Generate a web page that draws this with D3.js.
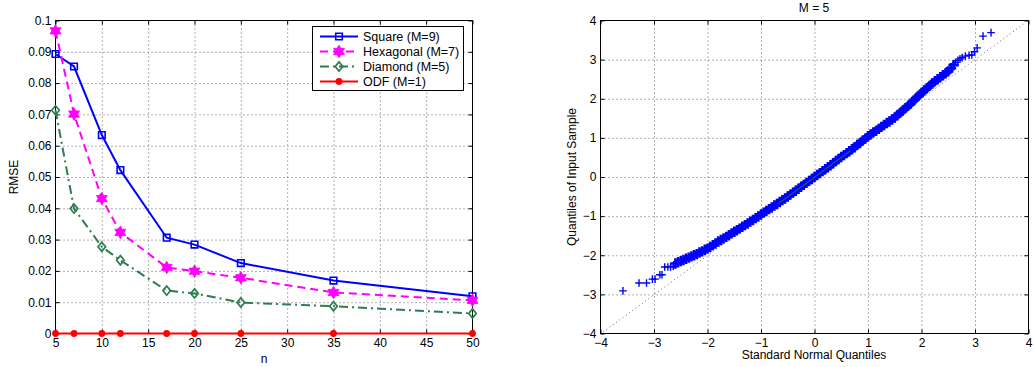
<!DOCTYPE html>
<html>
<head>
<meta charset="utf-8">
<script src="https://cdn.jsdelivr.net/npm/d3@7"></script>
<style>
  body { margin: 0; background: #fff; }
  svg { display: block; }
</style>
</head>
<body>
<svg id="chart" width="1034" height="367"></svg>
<script>
// ---------- RMSE vs n (left panel) ----------
const nValues      = [5, 7, 10, 12, 17, 20, 25, 35, 50];
const squareRMSE   = [0.0893, 0.0853, 0.0634, 0.0522, 0.0306, 0.0284, 0.0225, 0.0169, 0.0119];
const hexRMSE      = [0.0967, 0.0701, 0.0431, 0.0323, 0.0211, 0.0199, 0.0178, 0.0131, 0.0106];
const diamondRMSE  = [0.0713, 0.0399, 0.0277, 0.0234, 0.0137, 0.0128, 0.0099, 0.0087, 0.0064];
const odfRMSE      = [0, 0, 0, 0, 0, 0, 0, 0, 0];
const seriesNames  = ["Square (M=9)", "Hexagonal (M=7)", "Diamond (M=5)", "ODF (M=1)"];
const nTicks       = [5, 10, 15, 20, 25, 30, 35, 40, 45, 50];
const rmseTicks    = [0, 0.01, 0.02, 0.03, 0.04, 0.05, 0.06, 0.07, 0.08, 0.09, 0.1];

// ---------- Normal probability plot (right panel) ----------
// theoretical standard normal quantiles and matching sample quantiles
const qqTheo = [
  -3.58, -3.28, -3.14, -3.03, -2.98, -2.89, -2.85, -2.80, -2.74, -2.69, -2.64,
  -2.60, -2.55, -2.50, -2.45, -2.40, -2.35, -2.30, -2.25, -2.20, -2.15, -2.10, -2.05,
  -2.00, -1.95, -1.90, -1.85, -1.80, -1.75, -1.70, -1.65, -1.60, -1.55, -1.50, -1.45,
  -1.40, -1.35, -1.30, -1.25, -1.20, -1.15, -1.10, -1.05, -1.00, -0.95, -0.90, -0.85,
  -0.80, -0.75, -0.70, -0.65, -0.60, -0.55, -0.50, -0.45, -0.40, -0.35, -0.30, -0.25,
  -0.20, -0.15, -0.10, -0.05, 0.00, 0.05, 0.10, 0.15, 0.20, 0.25, 0.30, 0.35,
  0.40, 0.45, 0.50, 0.55, 0.60, 0.65, 0.70, 0.75, 0.80, 0.85, 0.90, 0.95,
  1.00, 1.05, 1.10, 1.15, 1.20, 1.25, 1.30, 1.35, 1.40, 1.45, 1.50, 1.55,
  1.60, 1.65, 1.70, 1.75, 1.80, 1.85, 1.90, 1.95, 2.00, 2.05, 2.10, 2.15,
  2.20, 2.25, 2.30, 2.35, 2.40, 2.45, 2.50, 2.55, 2.60,
  2.64, 2.68, 2.72, 2.76, 2.82, 2.89, 2.94, 2.99, 3.04, 3.15, 3.30
];
const qqSample = [
  -2.91, -2.71, -2.71, -2.61, -2.61, -2.50, -2.50, -2.30, -2.30, -2.30, -2.28,
  -2.21, -2.18, -2.15, -2.12, -2.09, -2.06, -2.03, -2.00, -1.97, -1.93, -1.90, -1.86,
  -1.83, -1.79, -1.74, -1.70, -1.65, -1.61, -1.57, -1.53, -1.49, -1.44, -1.40, -1.36,
  -1.32, -1.27, -1.23, -1.19, -1.14, -1.10, -1.05, -1.01, -0.96, -0.91, -0.87, -0.82,
  -0.78, -0.73, -0.69, -0.64, -0.59, -0.55, -0.50, -0.45, -0.40, -0.35, -0.30, -0.25,
  -0.20, -0.15, -0.10, -0.05, 0.00, 0.05, 0.10, 0.15, 0.20, 0.25, 0.30, 0.35,
  0.41, 0.46, 0.51, 0.56, 0.61, 0.66, 0.71, 0.76, 0.82, 0.87, 0.93, 0.98,
  1.04, 1.09, 1.14, 1.18, 1.23, 1.28, 1.33, 1.38, 1.42, 1.47, 1.52, 1.58,
  1.64, 1.70, 1.76, 1.82, 1.88, 1.95, 2.02, 2.08, 2.15, 2.21, 2.27, 2.33,
  2.39, 2.45, 2.50, 2.55, 2.60, 2.65, 2.70, 2.78, 2.86,
  2.93, 2.98, 3.02, 3.05, 3.09, 3.11, 3.12, 3.20, 3.30, 3.60, 3.69
];
// the central stretch where the sample points pile up into a solid band
const qqDenseRange   = [-2.62, 2.62];
// first and third quartile points of the fitted reference line
const quartileTheo   = [-0.674, 0.674];
const quartileSample = [-0.68, 0.67];
const refLineTheo    = [-3.95, 3.95];
const qqTicks        = [-4, -3, -2, -1, 0, 1, 2, 3, 4];
const qqTitle        = "M = 5";

const FONT = "'Liberation Sans', Arial, Helvetica, sans-serif";
const svg = d3.select("#chart");

// shared frame: dotted grid, inward ticks on all four sides, box, tick labels
function drawFrame(g, x, y, xTicks, yTicks, fmtX, fmtY) {
  const [x0, x1] = x.range();
  const [y0, y1] = y.range();
  const w = x1 - x0, h = y0 - y1;

  const gridStyle = sel => sel.selectAll("line")
    .attr("stroke", "#000").attr("stroke-opacity", 0.6)
    .attr("stroke-width", 1).attr("stroke-dasharray", "1,3");

  g.append("g").attr("transform", `translate(0,${y0})`)
    .call(d3.axisBottom(x).tickValues(xTicks.slice(1, -1)).tickSize(-h).tickFormat(""))
    .call(s => s.select(".domain").remove())
    .call(gridStyle);
  g.append("g").attr("transform", `translate(${x0},0)`)
    .call(d3.axisLeft(y).tickValues(yTicks.slice(1, -1)).tickSize(-w).tickFormat(""))
    .call(s => s.select(".domain").remove())
    .call(gridStyle);

  const tickStyle = s => {
    s.select(".domain").remove();
    s.selectAll("line").attr("stroke", "#000");
    s.selectAll("text").attr("font-family", FONT).attr("font-size", 12).attr("fill", "#000");
  };
  g.append("g").attr("transform", `translate(0,${y0})`)
    .call(d3.axisBottom(x).tickValues(xTicks).tickSize(-4).tickSizeOuter(0).tickPadding(5).tickFormat(fmtX))
    .call(tickStyle);
  g.append("g").attr("transform", `translate(0,${y1})`)
    .call(d3.axisTop(x).tickValues(xTicks).tickSize(-4).tickSizeOuter(0).tickFormat(""))
    .call(tickStyle);
  g.append("g").attr("transform", `translate(${x0},0)`)
    .call(d3.axisLeft(y).tickValues(yTicks).tickSize(-4).tickSizeOuter(0).tickPadding(4).tickFormat(fmtY))
    .call(tickStyle);
  g.append("g").attr("transform", `translate(${x1},0)`)
    .call(d3.axisRight(y).tickValues(yTicks).tickSize(-4).tickSizeOuter(0).tickFormat(""))
    .call(tickStyle);

  g.append("rect")
    .attr("x", x0).attr("y", y1).attr("width", w).attr("height", h)
    .attr("fill", "none").attr("stroke", "#000").attr("stroke-width", 1);
}

// ---------- left panel ----------
const xL = d3.scaleLinear().domain([5, 50]).range([55.5, 472.5]);
const yL = d3.scaleLinear().domain([0, 0.1]).range([333.5, 20.5]);
const left = svg.append("g");

drawFrame(left, xL, yL, nTicks, rmseTicks, d => String(d), d => String(+d.toFixed(2)));

// marker shapes
const hexagram = (R) => {
  const r = R / Math.sqrt(3);
  const pts = d3.range(12).map(i => {
    const a = -Math.PI / 2 + i * Math.PI / 6;
    const rad = i % 2 === 0 ? R : r;
    return [rad * Math.cos(a), rad * Math.sin(a)];
  });
  return "M" + pts.map(p => p.join(",")).join("L") + "Z";
};
const markers = {
  square:  { path: "M-3.3,-3.3H3.3V3.3H-3.3Z", fill: "none", sw: 1.6 },
  hex:     { path: hexagram(6.3), fill: "currentColor", sw: 0.8 },
  diamond: { path: "M0,-4.6L3.8,0L0,4.6L-3.8,0Z", fill: "none", sw: 1.7 },
  circle:  { path: d3.symbol(d3.symbolCircle, 36)(), fill: "currentColor", sw: 0 }
};

const series = [
  { name: seriesNames[0], values: squareRMSE,  color: "#0000ff", dash: null,       marker: "square" },
  { name: seriesNames[1], values: hexRMSE,     color: "#ff00ff", dash: "8,5",      marker: "hex" },
  { name: seriesNames[2], values: diamondRMSE, color: "#2e7d4f", dash: "9,4,2,4",  marker: "diamond" },
  { name: seriesNames[3], values: odfRMSE,     color: "#ff0000", dash: null,       marker: "circle" }
];

const line = d3.line().x((d, i) => xL(nValues[i])).y(d => yL(d));

series.forEach(s => {
  const g = left.append("g").style("color", s.color);
  g.append("path")
    .attr("d", line(s.values))
    .attr("fill", "none").attr("stroke", s.color).attr("stroke-width", 2)
    .attr("stroke-dasharray", s.dash);
  const m = markers[s.marker];
  g.selectAll("path.mk").data(s.values).join("path")
    .attr("class", "mk")
    .attr("transform", (d, i) => `translate(${xL(nValues[i])},${yL(d)})`)
    .attr("d", m.path)
    .attr("fill", m.fill)
    .attr("stroke", s.color).attr("stroke-width", m.sw);
});

// legend
const legend = left.append("g");
legend.append("rect")
  .attr("x", 312.5).attr("y", 26.5).attr("width", 151).attr("height", 64)
  .attr("fill", "#fff").attr("stroke", "#000").attr("stroke-width", 1);
series.forEach((s, i) => {
  const cy = 36.5 + i * 15;
  const g = legend.append("g").style("color", s.color);
  g.append("line")
    .attr("x1", 320).attr("x2", 358).attr("y1", cy).attr("y2", cy)
    .attr("stroke", s.color).attr("stroke-width", 2).attr("stroke-dasharray", s.dash);
  const m = markers[s.marker];
  g.append("path")
    .attr("transform", `translate(339,${cy})`)
    .attr("d", m.path).attr("fill", m.fill)
    .attr("stroke", s.color).attr("stroke-width", m.sw);
  legend.append("text")
    .attr("x", 363).attr("y", cy + 4.5)
    .attr("font-family", FONT).attr("font-size", 12.5).attr("fill", "#000")
    .text(s.name);
});

left.append("text")
  .attr("x", 264).attr("y", 362.5).attr("text-anchor", "middle")
  .attr("font-family", FONT).attr("font-size", 12).text("n");
left.append("text")
  .attr("transform", "translate(18,177) rotate(-90)").attr("text-anchor", "middle")
  .attr("font-family", FONT).attr("font-size", 12).text("RMSE");

// ---------- right panel ----------
const xR = d3.scaleLinear().domain([-4, 4]).range([600.5, 1028.5]);
const yR = d3.scaleLinear().domain([-4, 4]).range([333.5, 20.5]);
const right = svg.append("g");
const minusFmt = d => (d < 0 ? "\u2212" + Math.abs(d) : String(d));

drawFrame(right, xR, yR, qqTicks, qqTicks, minusFmt, minusFmt);

// extended reference line through the quartile points
const refFit = d3.scaleLinear().domain(quartileTheo).range(quartileSample);
right.append("line")
  .attr("x1", xR(refLineTheo[0])).attr("y1", yR(refFit(refLineTheo[0])))
  .attr("x2", xR(refLineTheo[1])).attr("y2", yR(refFit(refLineTheo[1])))
  .attr("stroke", "#000").attr("stroke-opacity", 0.6)
  .attr("stroke-width", 1).attr("stroke-dasharray", "1,3");

// "+" markers; the packed central stretch is drawn heavier so it reads as a solid band
const isDense = d => d >= qqDenseRange[0] && d <= qqDenseRange[1];
right.append("g").selectAll("path").data(qqTheo).join("path")
  .attr("transform", (d, i) => `translate(${xR(d)},${yR(qqSample[i])})`)
  .attr("d", d => isDense(d) ? "M-5.2,0H5.2M0,-5.2V5.2" : "M-3.8,0H3.8M0,-3.8V3.8")
  .attr("fill", "none").attr("stroke", "#0000ff")
  .attr("stroke-width", d => isDense(d) ? 2.6 : 1.4);

right.append("line")
  .attr("x1", xR(quartileTheo[0])).attr("y1", yR(quartileSample[0]))
  .attr("x2", xR(quartileTheo[1])).attr("y2", yR(quartileSample[1]))
  .attr("stroke", "#1a7f2a").attr("stroke-width", 1);

right.append("text")
  .attr("x", 814).attr("y", 12).attr("text-anchor", "middle")
  .attr("font-family", FONT).attr("font-size", 12).text(qqTitle);
right.append("text")
  .attr("x", 814).attr("y", 359).attr("text-anchor", "middle")
  .attr("font-family", FONT).attr("font-size", 12).text("Standard Normal Quantiles");
right.append("text")
  .attr("transform", "translate(576,177) rotate(-90)").attr("text-anchor", "middle")
  .attr("font-family", FONT).attr("font-size", 12).text("Quantiles of Input Sample");
</script>
</body>
</html>
